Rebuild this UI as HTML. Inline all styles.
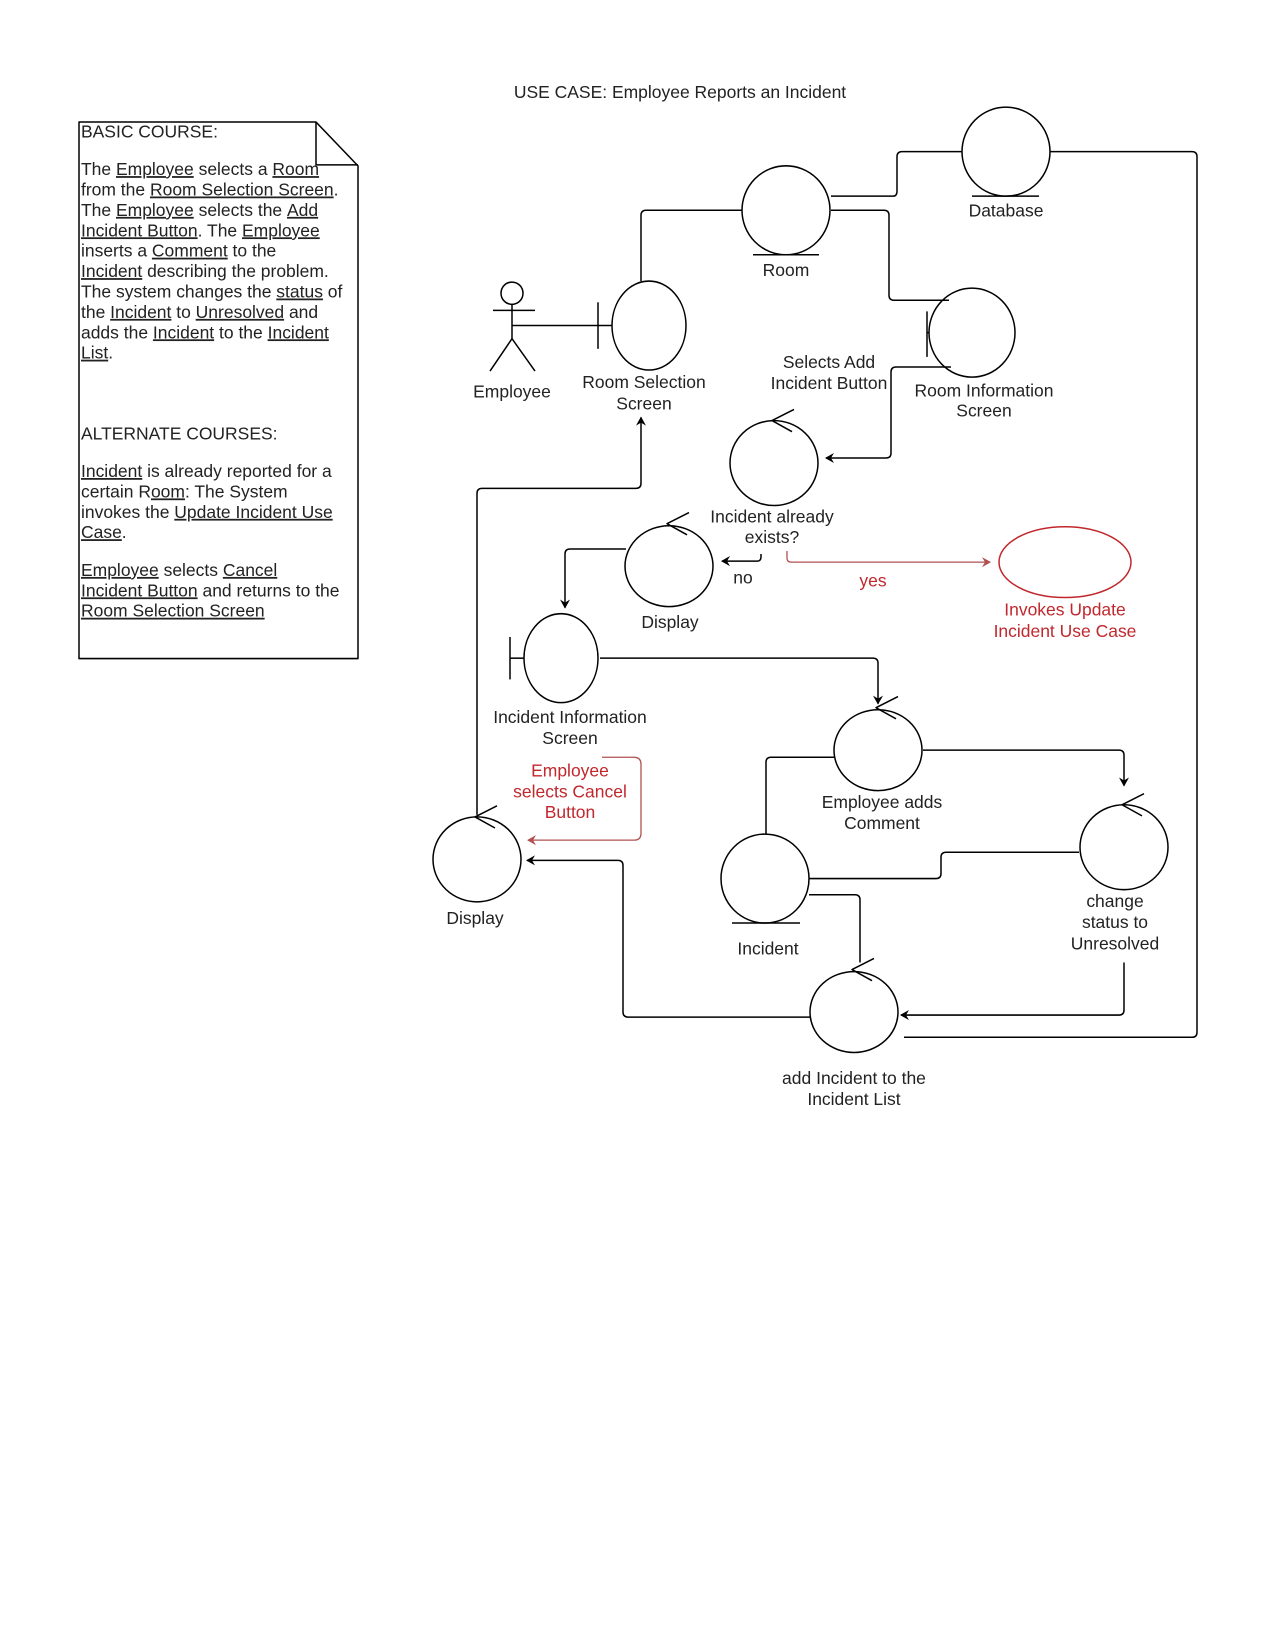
<!DOCTYPE html>
<html><head><meta charset="utf-8"><style>
body{margin:0;background:#fff;}
svg{display:block;font-family:"Liberation Sans",sans-serif;}
text{font-size:17.5px;fill:#222;}
.r{fill:#c0282d;}
</style></head><body>
<svg width="1275" height="1650" viewBox="0 0 1275 1650" xmlns="http://www.w3.org/2000/svg">
<defs>
<marker id="a" markerWidth="10" markerHeight="10" refX="8" refY="5" orient="auto" markerUnits="userSpaceOnUse"><path d="M0,0 L9,5 L0,10 L3,5 z" fill="#000"/></marker>
<marker id="ar" markerWidth="10" markerHeight="10" refX="8" refY="5" orient="auto" markerUnits="userSpaceOnUse"><path d="M0,0 L9,5 L0,10 L3,5 z" fill="#b05050"/></marker>
</defs>
<g transform="matrix(1,0,0,1.02,1,-2.4)">
<g fill="none" stroke="#000" stroke-width="1.5" stroke-linejoin="round">
<path d="M78,122 H315 L357,165 V648 H78 Z"/>
<path d="M315,122 V164 H357"/>
</g>
<g>
<text x="80" y="137">BASIC COURSE:</text>
<text x="80" y="174">The <tspan text-decoration="underline">Employee</tspan> selects a <tspan text-decoration="underline">Room</tspan></text>
<text x="80" y="194">from the <tspan text-decoration="underline">Room Selection Screen</tspan>.</text>
<text x="80" y="214">The <tspan text-decoration="underline">Employee</tspan> selects the <tspan text-decoration="underline">Add</tspan></text>
<text x="80" y="234"><tspan text-decoration="underline">Incident Button</tspan>. The <tspan text-decoration="underline">Employee</tspan></text>
<text x="80" y="254">inserts a <tspan text-decoration="underline">Comment</tspan> to the</text>
<text x="80" y="274"><tspan text-decoration="underline">Incident</tspan> describing the problem.</text>
<text x="80" y="294">The system changes the <tspan text-decoration="underline">status</tspan> of</text>
<text x="80" y="314">the <tspan text-decoration="underline">Incident</tspan> to <tspan text-decoration="underline">Unresolved</tspan> and</text>
<text x="80" y="334">adds the <tspan text-decoration="underline">Incident</tspan> to the <tspan text-decoration="underline">Incident</tspan></text>
<text x="80" y="354"><tspan text-decoration="underline">List</tspan>.</text>
<text x="80" y="433">ALTERNATE COURSES:</text>
<text x="80" y="470"><tspan text-decoration="underline">Incident</tspan> is already reported for a</text>
<text x="80" y="490">certain R<tspan text-decoration="underline">oom</tspan>: The System</text>
<text x="80" y="510">invokes the <tspan text-decoration="underline">Update Incident Use</tspan></text>
<text x="80" y="530"><tspan text-decoration="underline">Case</tspan>.</text>
<text x="80" y="567"><tspan text-decoration="underline">Employee</tspan> selects <tspan text-decoration="underline">Cancel</tspan></text>
<text x="80" y="587"><tspan text-decoration="underline">Incident Button</tspan> and returns to the</text>
<text x="80" y="607"><tspan text-decoration="underline">Room Selection Screen</tspan></text>
</g>
</g>

<g transform="matrix(1,0,0,1.011,8,-1)">
<text x="672" y="98" text-anchor="middle">USE CASE: Employee Reports an Incident</text>
<g fill="none" stroke="#000" stroke-width="1.5" stroke-linejoin="round">
<ellipse cx="998" cy="151" rx="44" ry="44"/><line x1="964" y1="195" x2="1031" y2="195"/>
<ellipse cx="778" cy="209" rx="44" ry="44"/><line x1="745" y1="253" x2="811" y2="253"/>
<ellipse cx="757" cy="870" rx="44" ry="44"/><line x1="724" y1="914" x2="792" y2="914"/>
<ellipse cx="641" cy="323" rx="37" ry="44"/><line x1="590" y1="300" x2="590" y2="346"/>
<ellipse cx="964" cy="330" rx="43" ry="44"/><line x1="919" y1="309" x2="919" y2="354"/><line x1="919" y1="330" x2="921" y2="330"/>
<ellipse cx="553" cy="652" rx="37" ry="44"/><line x1="502" y1="631" x2="502" y2="673"/><line x1="502" y1="652" x2="516" y2="652"/>
<ellipse cx="766" cy="459" rx="44" ry="42"/><path d="M786,406 L764,417 L784,428"/>
<ellipse cx="661" cy="561" rx="44" ry="40"/><path d="M681,508 L659,519 L679,530"/>
<ellipse cx="870" cy="743" rx="44" ry="40"/><path d="M890,690 L868,701 L888,712"/>
<ellipse cx="1116" cy="839" rx="44" ry="42"/><path d="M1136,786 L1114,797 L1134,808"/>
<ellipse cx="846" cy="1002" rx="44" ry="40"/><path d="M866,949 L844,960 L864,971"/>
<ellipse cx="469" cy="851" rx="44" ry="42"/><path d="M489,798 L467,809 L487,820"/>
<circle cx="504" cy="291" r="11"/>
<line x1="485" y1="308" x2="527" y2="308"/>
<line x1="504" y1="302" x2="504" y2="336"/>
<path d="M482,368 L504,336 L527,368"/>
<line x1="504" y1="323" x2="604" y2="323"/>
<path d="M823,195 H885 Q889,195 889,190 V156 Q889,151 894,151 H954"/>
<path d="M734,209 H638 Q633,209 633,214 V279"/>
<path d="M823,209 H876 Q881,209 881,214 V293 Q881,298 886,298 H941"/>
<path d="M943,364 H888 Q883,364 883,369 V449 Q883,454 878,454 H818" marker-end="url(#a)"/>
<path d="M753,549 V552 Q753,556 749,556 H714" marker-end="url(#a)"/>
<path d="M618,544 H562 Q557,544 557,549 V602" marker-end="url(#a)"/>
<path d="M592,652 H865 Q870,652 870,657 V697" marker-end="url(#a)"/>
<path d="M915,743 H1111 Q1116,743 1116,748 V778" marker-end="url(#a)"/>
<path d="M826,750 H763 Q758,750 758,755 V826"/>
<path d="M801,870 H928 Q933,870 933,865 V849 Q933,844 938,844 H1071"/>
<path d="M801,886 H847 Q852,886 852,891 V953"/>
<path d="M1116,953 V1000 Q1116,1005 1111,1005 H893" marker-end="url(#a)"/>
<path d="M802,1007 H620 Q615,1007 615,1002 V857 Q615,852 610,852 H519" marker-end="url(#a)"/>
<path d="M896,1027 H1184 Q1189,1027 1189,1022 V156 Q1189,151 1184,151 H1042"/>
<path d="M469,807 V489 Q469,484 474,484 H628 Q633,484 633,479 V414" marker-end="url(#a)"/>
</g>
<g fill="none" stroke="#b05050" stroke-width="1.3">
<path d="M779,546 V553 Q779,557 783,557 H982" marker-end="url(#ar)"/>
<path d="M594,750 H626 Q633,750 633,757 V825 Q633,832 626,832 H520" marker-end="url(#ar)"/>
</g>
<ellipse cx="1057" cy="557" rx="66" ry="35" fill="none" stroke="#c0282d" stroke-width="1.5"/>
<g text-anchor="middle">
<text x="998" y="215">Database</text>
<text x="778" y="274">Room</text>
<text x="504" y="394">Employee</text>
<text x="636" y="385">Room Selection</text>
<text x="636" y="406">Screen</text>
<text x="976" y="393">Room Information</text>
<text x="976" y="413">Screen</text>
<text x="821" y="365">Selects Add</text>
<text x="821" y="386">Incident Button</text>
<text x="764" y="518">Incident already</text>
<text x="764" y="538">exists?</text>
<text x="735" y="578">no</text>
<text x="865" y="581" class="r">yes</text>
<text x="1057" y="610" class="r">Invokes Update</text>
<text x="1057" y="631" class="r">Incident Use Case</text>
<text x="662" y="622">Display</text>
<text x="562" y="716">Incident Information</text>
<text x="562" y="737">Screen</text>
<text x="562" y="769" class="r">Employee</text>
<text x="562" y="790" class="r">selects Cancel</text>
<text x="562" y="810" class="r">Button</text>
<text x="874" y="800">Employee adds</text>
<text x="874" y="821">Comment</text>
<text x="467" y="915">Display</text>
<text x="760" y="945">Incident</text>
<text x="1107" y="898">change</text>
<text x="1107" y="919">status to</text>
<text x="1107" y="940">Unresolved</text>
<text x="846" y="1073">add Incident to the</text>
<text x="846" y="1094">Incident List</text>
</g>
</g>
</svg>
</body></html>
